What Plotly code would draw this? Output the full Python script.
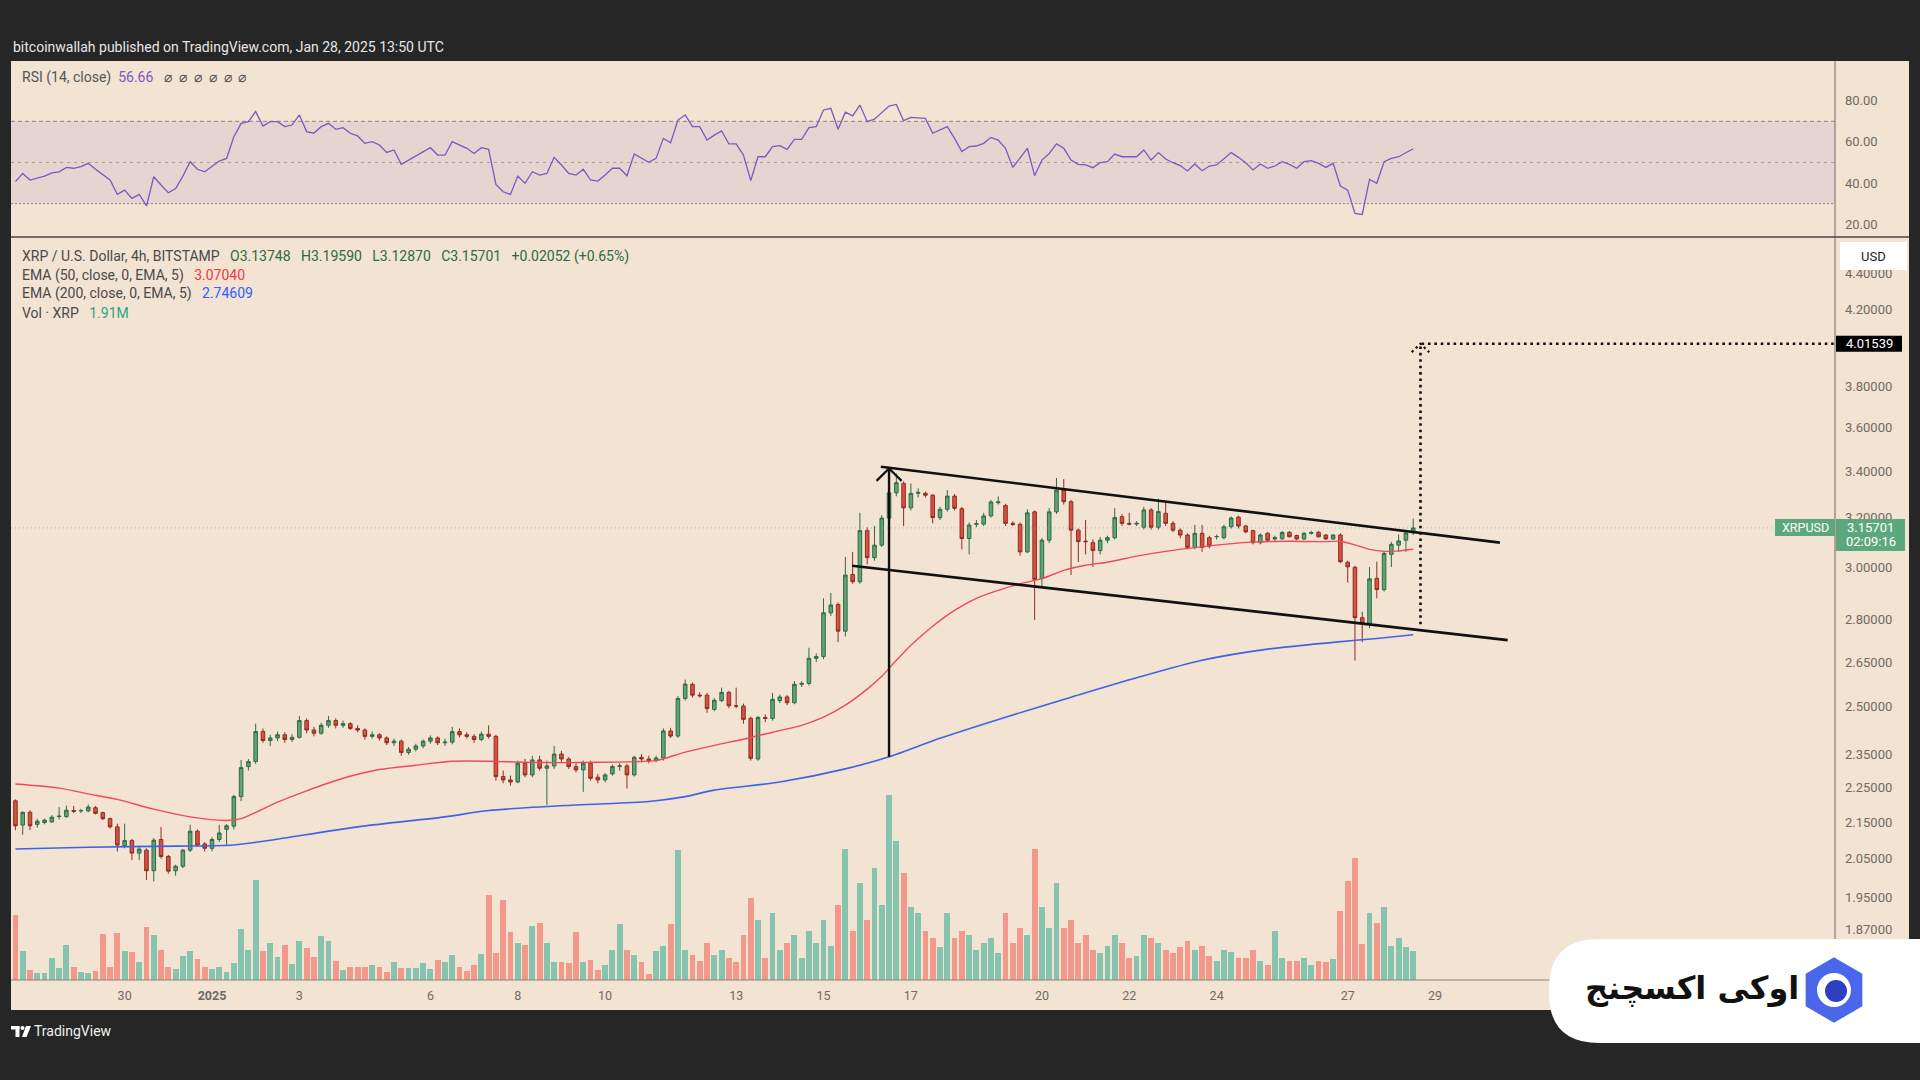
import math
import pandas as pd
import plotly.graph_objects as go

# ---------------- data ----------------
START = "2024-12-27 12:00"   # first 4h candle

opens = [
    2.211, 2.142, 2.178, 2.144, 2.149, 2.151, 2.166, 2.166, 2.183, 2.182,
    2.182, 2.191, 2.177, 2.160, 2.137, 2.085, 2.099, 2.065, 2.073, 2.018,
    2.102, 2.056, 2.018, 2.030, 2.073, 2.125, 2.090, 2.078, 2.102, 2.130,
    2.139, 2.223, 2.312, 2.327, 2.420, 2.392, 2.400, 2.410, 2.395, 2.402,
    2.455, 2.425, 2.415, 2.440, 2.455, 2.440, 2.445, 2.430, 2.425, 2.405,
    2.410, 2.400, 2.385, 2.390, 2.355, 2.365, 2.375, 2.390, 2.400, 2.385,
    2.387, 2.420, 2.410, 2.405, 2.395, 2.412, 2.405, 2.282, 2.272, 2.266,
    2.322, 2.287, 2.332, 2.307, 2.314, 2.350, 2.335, 2.312, 2.302, 2.322,
    2.280, 2.272, 2.290, 2.312, 2.314, 2.287, 2.340, 2.335, 2.330, 2.338,
    2.422, 2.406, 2.527, 2.574, 2.538, 2.538, 2.491, 2.520, 2.547, 2.503,
    2.502, 2.462, 2.335, 2.465, 2.462, 2.520, 2.532, 2.513, 2.574, 2.577,
    2.663, 2.669, 2.826, 2.857, 2.759, 2.971, 2.943, 3.146, 3.037, 3.087,
    3.198, 3.305, 3.346, 3.241, 3.303, 3.303, 3.295, 3.200, 3.235, 3.291,
    3.237, 3.114, 3.172, 3.173, 3.207, 3.263, 3.251, 3.176, 3.172, 3.060,
    3.224, 2.956, 3.107, 3.224, 3.317, 3.267, 3.148, 3.103, 3.097, 3.065,
    3.107, 3.117, 3.204, 3.176, 3.173, 3.160, 3.232, 3.160, 3.218, 3.176,
    3.148, 3.128, 3.078, 3.135, 3.117, 3.121, 3.117, 3.162, 3.202, 3.165,
    3.146, 3.097, 3.135, 3.112, 3.113, 3.139, 3.126, 3.112, 3.135, 3.139,
    3.128, 3.112, 3.128, 3.019, 2.999, 2.808, 2.787, 2.956, 2.913, 3.050,
    3.087, 3.107, 3.13748,
]
highs = [
    2.215, 2.180, 2.184, 2.160, 2.160, 2.170, 2.193, 2.197, 2.196, 2.188,
    2.200, 2.196, 2.180, 2.163, 2.146, 2.146, 2.104, 2.085, 2.078, 2.106,
    2.137, 2.060, 2.034, 2.076, 2.143, 2.130, 2.095, 2.108, 2.143, 2.145,
    2.228, 2.332, 2.335, 2.445, 2.430, 2.410, 2.420, 2.418, 2.412, 2.470,
    2.462, 2.435, 2.448, 2.470, 2.462, 2.455, 2.450, 2.440, 2.430, 2.420,
    2.415, 2.405, 2.398, 2.395, 2.372, 2.382, 2.395, 2.408, 2.405, 2.398,
    2.435, 2.430, 2.418, 2.412, 2.420, 2.440, 2.410, 2.300, 2.285, 2.330,
    2.335, 2.345, 2.345, 2.330, 2.375, 2.360, 2.340, 2.322, 2.330, 2.330,
    2.290, 2.292, 2.318, 2.322, 2.320, 2.345, 2.350, 2.345, 2.345, 2.430,
    2.432, 2.535, 2.590, 2.580, 2.547, 2.545, 2.528, 2.563, 2.552, 2.563,
    2.510, 2.468, 2.470, 2.475, 2.545, 2.540, 2.538, 2.585, 2.585, 2.700,
    2.680, 2.880, 2.900, 2.865, 3.040, 3.060, 3.220, 3.160, 3.165, 3.210,
    3.390, 3.390, 3.355, 3.346, 3.325, 3.310, 3.300, 3.245, 3.317, 3.300,
    3.245, 3.180, 3.190, 3.220, 3.275, 3.290, 3.258, 3.185, 3.180, 3.235,
    3.230, 3.115, 3.240, 3.370, 3.365, 3.275, 3.155, 3.190, 3.110, 3.120,
    3.125, 3.240, 3.215, 3.220, 3.185, 3.245, 3.240, 3.280, 3.265, 3.185,
    3.155, 3.135, 3.170, 3.170, 3.125, 3.130, 3.170, 3.205, 3.208, 3.170,
    3.150, 3.135, 3.140, 3.125, 3.145, 3.145, 3.130, 3.140, 3.145, 3.145,
    3.132, 3.132, 3.135, 3.025, 3.005, 2.830, 3.000, 3.021, 3.060, 3.100,
    3.130, 3.145, 3.19590,
]
lows = [
    2.128, 2.115, 2.128, 2.135, 2.144, 2.148, 2.158, 2.162, 2.176, 2.176,
    2.178, 2.172, 2.156, 2.132, 2.069, 2.078, 2.046, 2.046, 1.994, 1.990,
    2.050, 2.010, 2.005, 2.025, 2.068, 2.082, 2.070, 2.070, 2.095, 2.085,
    2.130, 2.210, 2.300, 2.320, 2.385, 2.375, 2.390, 2.385, 2.388, 2.398,
    2.415, 2.405, 2.410, 2.432, 2.430, 2.432, 2.425, 2.418, 2.395, 2.398,
    2.392, 2.378, 2.375, 2.345, 2.348, 2.358, 2.368, 2.382, 2.378, 2.375,
    2.380, 2.402, 2.398, 2.385, 2.390, 2.398, 2.270, 2.262, 2.255, 2.262,
    2.280, 2.280, 2.300, 2.199, 2.305, 2.325, 2.305, 2.295, 2.237, 2.270,
    2.262, 2.265, 2.285, 2.300, 2.247, 2.282, 2.325, 2.322, 2.325, 2.330,
    2.400, 2.400, 2.520, 2.530, 2.530, 2.480, 2.485, 2.515, 2.495, 2.495,
    2.445, 2.330, 2.330, 2.450, 2.455, 2.512, 2.505, 2.508, 2.565, 2.570,
    2.650, 2.660, 2.815, 2.720, 2.740, 2.935, 2.935, 3.010, 3.025, 3.080,
    3.180, 3.290, 3.165, 3.230, 3.285, 3.285, 3.176, 3.190, 3.225, 3.230,
    3.070, 3.050, 3.160, 3.165, 3.200, 3.255, 3.165, 3.165, 3.045, 3.055,
    2.800, 2.925, 3.095, 3.215, 3.255, 2.969, 3.020, 3.050, 3.000, 3.050,
    3.095, 3.110, 3.165, 3.168, 3.165, 3.150, 3.150, 3.150, 3.165, 3.140,
    3.115, 3.070, 3.070, 3.060, 3.075, 3.110, 3.110, 3.155, 3.155, 3.135,
    3.090, 3.090, 3.105, 3.105, 3.108, 3.118, 3.108, 3.108, 3.130, 3.118,
    3.108, 3.108, 3.015, 2.940, 2.655, 2.719, 2.770, 2.880, 2.905, 3.000,
    3.060, 3.060, 3.12870,
]
closes = [
    2.140, 2.178, 2.140, 2.153, 2.156, 2.164, 2.167, 2.184, 2.181, 2.183,
    2.193, 2.175, 2.160, 2.137, 2.087, 2.099, 2.065, 2.076, 2.018, 2.100,
    2.056, 2.017, 2.030, 2.073, 2.125, 2.087, 2.078, 2.102, 2.120, 2.140,
    2.223, 2.309, 2.327, 2.420, 2.392, 2.400, 2.410, 2.395, 2.402, 2.455,
    2.425, 2.415, 2.440, 2.455, 2.440, 2.445, 2.430, 2.425, 2.405, 2.410,
    2.400, 2.385, 2.390, 2.355, 2.365, 2.375, 2.390, 2.400, 2.385, 2.387,
    2.420, 2.410, 2.405, 2.395, 2.412, 2.405, 2.282, 2.272, 2.266, 2.322,
    2.287, 2.332, 2.307, 2.314, 2.350, 2.335, 2.312, 2.302, 2.322, 2.277,
    2.272, 2.287, 2.312, 2.314, 2.287, 2.340, 2.335, 2.330, 2.338, 2.422,
    2.406, 2.527, 2.575, 2.538, 2.536, 2.494, 2.521, 2.547, 2.503, 2.502,
    2.459, 2.337, 2.465, 2.462, 2.524, 2.532, 2.513, 2.574, 2.577, 2.663,
    2.669, 2.826, 2.855, 2.759, 2.969, 2.943, 3.146, 3.037, 3.087, 3.198,
    3.305, 3.349, 3.241, 3.303, 3.307, 3.295, 3.200, 3.235, 3.291, 3.239,
    3.114, 3.169, 3.175, 3.207, 3.266, 3.266, 3.176, 3.172, 3.060, 3.220,
    2.952, 3.107, 3.224, 3.317, 3.267, 3.148, 3.101, 3.101, 3.065, 3.107,
    3.117, 3.200, 3.176, 3.173, 3.176, 3.232, 3.160, 3.225, 3.176, 3.148,
    3.128, 3.078, 3.135, 3.078, 3.083, 3.122, 3.162, 3.198, 3.165, 3.141,
    3.097, 3.128, 3.107, 3.118, 3.138, 3.121, 3.112, 3.135, 3.138, 3.121,
    3.112, 3.128, 3.021, 3.001, 2.808, 2.787, 2.954, 2.913, 3.054, 3.090,
    3.104, 3.136, 3.15701,
]
volumes_m = [
    4.35, 1.97, 0.67, 0.49, 0.49, 1.45, 0.78, 2.32, 0.85, 0.54,
    0.45, 0.63, 3.08, 0.89, 3.15, 1.94, 1.88, 1.23, 3.53, 3.01,
    2.01, 0.89, 0.71, 1.61, 1.92, 1.41, 0.85, 0.71, 0.89, 0.54,
    1.16, 3.39, 2.01, 6.68, 1.97, 2.48, 1.52, 2.32, 1.05, 2.64,
    2.14, 1.54, 2.95, 2.61, 1.27, 0.67, 0.89, 0.89, 0.89, 1.00,
    0.89, 0.56, 1.23, 0.78, 0.78, 0.78, 1.12, 0.74, 1.34, 1.18,
    1.70, 0.89, 0.58, 1.03, 1.74, 5.69, 1.79, 5.38, 3.19, 2.46,
    2.32, 3.62, 3.80, 2.50, 1.23, 1.23, 1.12, 3.19, 1.23, 1.34,
    0.67, 0.98, 1.99, 3.73, 2.01, 1.67, 1.23, 0.42, 1.97, 2.28,
    3.77, 8.71, 1.99, 1.70, 1.30, 2.50, 1.70, 2.00, 1.50, 1.20,
    3.00, 5.50, 4.00, 1.50, 4.50, 2.00, 2.50, 3.00, 1.50, 3.30,
    2.50, 4.00, 2.30, 5.00, 8.80, 3.30, 6.50, 4.00, 7.50, 5.00,
    12.4, 9.30, 7.20, 4.90, 4.50, 3.30, 2.80, 2.20, 4.50, 2.80,
    3.30, 3.00, 2.00, 2.50, 2.80, 1.80, 4.50, 2.50, 3.50, 3.00,
    8.80, 4.90, 3.50, 6.50, 3.50, 4.00, 2.50, 3.00, 2.00, 1.80,
    2.30, 3.00, 2.50, 1.50, 1.60, 3.00, 2.80, 2.50, 2.00, 1.80,
    2.20, 2.60, 2.00, 2.30, 1.60, 1.30, 2.00, 1.90, 1.50, 1.50,
    2.00, 1.30, 1.00, 3.30, 1.50, 1.30, 1.30, 1.50, 1.00, 1.30,
    1.20, 1.40, 4.60, 6.60, 8.20, 2.40, 4.50, 3.80, 4.90, 2.30,
    2.80, 2.20, 1.91,
]
rsi_vals = [
    40.7, 44.7, 41.5, 42.6, 43.4, 45.0, 45.5, 47.6, 47.2, 48.0,
    49.6, 46.7, 44.3, 41.5, 34.5, 36.6, 32.6, 34.5, 28.9, 43.1,
    39.1, 35.3, 37.4, 43.4, 50.4, 46.7, 45.5, 48.3, 50.7, 52.0,
    62.5, 69.0, 69.8, 74.7, 67.7, 69.8, 69.8, 67.4, 68.2, 73.1,
    65.0, 64.2, 67.4, 69.0, 66.1, 66.9, 64.2, 62.9, 59.3, 60.1,
    58.5, 54.9, 56.1, 49.1, 51.2, 53.1, 55.3, 57.2, 53.6, 53.6,
    60.1, 58.5, 56.9, 54.4, 57.2, 56.4, 39.4, 35.8, 34.5, 43.4,
    39.9, 45.5, 43.9, 44.7, 52.5, 48.8, 44.7, 43.9, 46.7, 41.5,
    41.0, 43.9, 47.2, 47.2, 43.6, 54.1, 52.0, 50.1, 52.0, 61.7,
    59.6, 70.6, 73.1, 67.4, 67.4, 60.9, 63.3, 65.3, 59.0, 59.0,
    53.6, 41.2, 52.8, 52.8, 57.7, 58.2, 56.4, 61.2, 61.2, 66.9,
    67.4, 75.5, 76.3, 66.1, 74.4, 72.6, 77.9, 69.8, 71.0, 74.4,
    77.4, 78.2, 70.3, 71.9, 71.8, 71.4, 64.2, 65.8, 67.4, 61.7,
    55.3, 57.7, 58.0, 59.3, 62.2, 60.9, 56.9, 47.6, 52.0, 56.9,
    43.6, 51.2, 54.4, 59.0, 56.9, 51.2, 49.1, 48.8, 47.5, 49.9,
    50.4, 54.1, 52.8, 52.8, 52.8, 56.1, 51.2, 54.8, 51.7, 49.9,
    48.5, 45.9, 49.3, 46.0, 48.3, 48.8, 52.0, 54.8, 52.5, 49.9,
    46.4, 49.3, 47.2, 48.3, 50.4, 49.1, 47.2, 50.4, 50.9, 49.6,
    47.6, 49.6, 38.6, 36.6, 25.3, 24.8, 41.8, 39.9, 50.4, 52.0,
    52.8, 54.8, 56.66,
]
ema50_idx = [0, 6, 10, 14, 19, 24, 29, 31, 33, 36, 40, 45, 50, 55, 60, 65, 70, 75, 80, 85,
             88, 92, 96, 100, 104, 108, 111, 114, 117, 119, 121, 123, 126, 129, 132, 135,
             138, 141, 144, 147, 150, 154, 158, 162, 166, 170, 175, 180, 182, 184, 186, 188, 190, 192]
ema50_vals = [2.260, 2.248, 2.231, 2.215, 2.187, 2.165, 2.155, 2.160, 2.178, 2.207, 2.240, 2.277,
              2.303, 2.316, 2.328, 2.328, 2.325, 2.324, 2.325, 2.327, 2.330, 2.356, 2.377, 2.396,
              2.418, 2.440, 2.466, 2.505, 2.558, 2.601, 2.656, 2.709, 2.777, 2.835, 2.880, 2.910,
              2.935, 2.955, 2.987, 3.007, 3.019, 3.043, 3.062, 3.077, 3.090, 3.099, 3.103, 3.101,
              3.103, 3.088, 3.070, 3.062, 3.064, 3.07040]
ema200_idx = [0, 10, 22, 30, 35, 47, 59, 65, 77, 87, 92, 96, 105, 114, 120, 127, 136, 145,
              154, 163, 172, 181, 187, 192]
ema200_vals = [2.076, 2.081, 2.084, 2.087, 2.100, 2.137, 2.165, 2.183, 2.199, 2.209, 2.223, 2.242,
               2.266, 2.305, 2.342, 2.399, 2.466, 2.531, 2.596, 2.656, 2.695, 2.719, 2.733, 2.74609]

price_ticks = [1.87, 1.95, 2.05, 2.15, 2.25, 2.35, 2.50, 2.65, 2.80, 3.00, 3.20, 3.40, 3.60, 3.80, 4.20, 4.40]
rsi_ticks = [20, 40, 60, 80]
date_ticks = ["2024-12-30", "2025-01-01", "2025-01-03", "2025-01-06", "2025-01-08", "2025-01-10",
              "2025-01-13", "2025-01-15", "2025-01-17", "2025-01-20", "2025-01-22", "2025-01-24",
              "2025-01-27", "2025-01-29"]
date_tick_text = ["30", "<b>2025</b>", "3", "6", "8", "10", "13", "15", "17", "20", "22", "24", "27", "29"]

# drawings (time, price)
upper_line_t = ["2025-01-16 07:30", "2025-01-30 11:40"]
upper_line_p = [3.420, 3.097]
lower_line_t = ["2025-01-15 15:40", "2025-01-30 15:55"]
lower_line_p = [3.005, 2.727]
flag_t = "2025-01-16 12:00"
flag_p = [2.342, 3.412]
target_t = "2025-01-28 16:00"
target_from = 2.784
target_price = 4.01539
last_price = 3.15701
ema50_last = "3.07040"
ema200_last = "2.74609"
rsi_last = "56.66"
vol_last = "1.91M"
countdown = "02:09:16"

# ---------------- geometry helpers ----------------
W, H = 1920, 1080
def px(x): return x / W
def py(y): return 1 - y / H

PLOT_L, PLOT_R, PANEL_R = 11, 1835, 1909
MAIN_T, MAIN_B = 238, 980
RSI_T, RSI_B = 61, 236
JAN1 = pd.Timestamp("2025-01-01")
X_JAN1, PX_DAY = 212.0, 43.68
def t_at(xpix):
    return JAN1 + pd.Timedelta(days=(xpix - X_JAN1) / PX_DAY)

LP = (math.log10(4.2) - math.log10(2.05)) / (858.7 - 309.3)
YTOP = math.log10(4.2) + (309.3 - MAIN_T) * LP
YBOT = math.log10(2.05) - (MAIN_B - 858.7) * LP
def price_pix(p):
    return MAIN_B - (math.log10(p) - YBOT) / LP

RP = 60 / (224.3 - 100.7)
RTOP = 80 + (100.7 - RSI_T) * RP
RBOT = 20 - (RSI_B - 224.3) * RP

times = pd.date_range(START, periods=len(closes), freq="4h")
x0_t, x1_t = t_at(PLOT_L), t_at(PLOT_R)

BEIGE = "#F2E3D3"
DARK = "#262626"
AXIS_TXT = "#716a64"
FONT = "Roboto, 'Liberation Sans', Arial, sans-serif"

fig = go.Figure()

# volume (base axis, drawn below price)
vol_colors = ["#86C4B0" if c >= o else "#F2998C" for o, c in zip(opens, closes)]
fig.add_trace(go.Bar(x=times, y=volumes_m, marker=dict(color=vol_colors, line=dict(width=0)),
                     width=4 * 3600 * 1000 * 0.8, xaxis="x", yaxis="y", hoverinfo="skip"))

# EMA lines
fig.add_trace(go.Scatter(x=[times[i] for i in ema200_idx], y=ema200_vals, mode="lines",
                         line=dict(color="#3F63E6", width=1.6, shape="spline", smoothing=0.8),
                         xaxis="x", yaxis="y2", hoverinfo="skip"))
fig.add_trace(go.Scatter(x=[times[i] for i in ema50_idx], y=ema50_vals, mode="lines",
                         line=dict(color="#EE4A5C", width=1.4, shape="spline", smoothing=0.8),
                         xaxis="x", yaxis="y2", hoverinfo="skip"))

# candles
fig.add_trace(go.Candlestick(
    x=times, open=opens, high=highs, low=lows, close=closes, xaxis="x", yaxis="y2",
    increasing=dict(fillcolor="#5FA475", line=dict(color="#2F6B46", width=1)),
    decreasing=dict(fillcolor="#D9503F", line=dict(color="#8F2D22", width=1)),
    whiskerwidth=0, hoverinfo="skip"))

# current price dotted line
fig.add_trace(go.Scatter(x=[x0_t, x1_t], y=[last_price, last_price], mode="lines",
                         line=dict(color="rgba(110,150,120,0.55)", width=1, dash="1px,3px"),
                         xaxis="x", yaxis="y2", hoverinfo="skip"))

# channel lines
for tt_, pp_ in ((upper_line_t, upper_line_p), (lower_line_t, lower_line_p)):
    fig.add_trace(go.Scatter(x=pd.to_datetime(tt_), y=pp_, mode="lines",
                             line=dict(color="#111111", width=2.6), xaxis="x", yaxis="y2",
                             hoverinfo="skip"))

# flag pole with arrow head
ft = pd.Timestamp(flag_t)
fig.add_trace(go.Scatter(x=[ft, ft], y=flag_p, mode="lines", line=dict(color="#111111", width=2.4),
                         xaxis="x", yaxis="y2", hoverinfo="skip"))
head_dt = pd.Timedelta(hours=6.9)
head_k = math.exp(-12.4 / 766)
fig.add_trace(go.Scatter(x=[ft - head_dt, ft, ft + head_dt],
                         y=[flag_p[1] * head_k, flag_p[1], flag_p[1] * head_k], mode="lines",
                         line=dict(color="#111111", width=2.2), xaxis="x", yaxis="y2", hoverinfo="skip"))

# projected target (dotted)
tt = pd.Timestamp(target_t)
dots = dict(color="#111111", width=2.6, dash="2.6px,3.8px")
fig.add_trace(go.Scatter(x=[tt, tt, x1_t], y=[target_from, target_price, target_price], mode="lines",
                         line=dots, xaxis="x", yaxis="y2", hoverinfo="skip"))
tdt = pd.Timedelta(hours=4.8)
tk = math.exp(-8.5 / 766)
fig.add_trace(go.Scatter(x=[tt - tdt, tt, tt + tdt], y=[target_price * tk, target_price, target_price * tk],
                         mode="lines", line=dict(color="#111111", width=2.2, dash="2.4px,3.2px"),
                         xaxis="x", yaxis="y2", hoverinfo="skip"))

# RSI
fig.add_trace(go.Scatter(x=times, y=rsi_vals, mode="lines", line=dict(color="#7E57C2", width=1.3),
                         xaxis="x2", yaxis="y3", hoverinfo="skip"))

# ---------------- shapes ----------------
shapes = []
shapes.append(dict(type="rect", xref="paper", yref="paper", x0=px(PLOT_L), x1=px(PANEL_R),
                   y0=py(1010), y1=py(RSI_T), fillcolor=BEIGE, line=dict(width=0), layer="below"))
shapes.append(dict(type="rect", xref="paper", yref="y3", x0=px(PLOT_L), x1=px(PLOT_R), y0=30, y1=70,
                   fillcolor="rgba(126,87,194,0.10)", line=dict(width=0), layer="below"))
for lvl, dash, col in ((70, "4px,3px", "#8d8580"), (50, "3px,4px", "#aaa19a"), (30, "2px,2px", "#8d8580")):
    shapes.append(dict(type="line", xref="paper", yref="y3", x0=px(PLOT_L), x1=px(PLOT_R), y0=lvl, y1=lvl,
                       line=dict(color=col, width=1, dash=dash), layer="below"))
# separators
shapes.append(dict(type="line", xref="paper", yref="paper", x0=px(PLOT_R), x1=px(PLOT_R),
                   y0=py(1010), y1=py(RSI_T), line=dict(color="#6e6862", width=1)))
shapes.append(dict(type="line", xref="paper", yref="paper", x0=px(PLOT_L), x1=px(PANEL_R),
                   y0=py(237), y1=py(237), line=dict(color="#4a4542", width=1.5)))
shapes.append(dict(type="line", xref="paper", yref="paper", x0=px(PLOT_L), x1=px(PANEL_R),
                   y0=py(MAIN_B), y1=py(MAIN_B), line=dict(color="#8a8078", width=1)))

def box(x0, y0, x1, y1, color):
    return dict(type="rect", xref="paper", yref="paper", x0=px(x0), x1=px(x1), y0=py(y1), y1=py(y0),
                fillcolor=color, line=dict(width=0), layer="above")

# axis label boxes
shapes.append(box(1840, 242, 1907, 270, "#FFFFFF"))
ty = price_pix(target_price)
shapes.append(box(1836, ty - 8, 1902, ty + 8, "#000000"))
ly = price_pix(last_price)
shapes.append(box(1836, ly - 9, 1905, ly + 23, "#5CA87C"))
shapes.append(box(1775, ly - 9, 1835, ly + 8, "#5CA87C"))

# watermark card
def pth(cmds):
    out = []
    for c in cmds:
        if isinstance(c, str):
            out.append(c)
        else:
            out.append(f"{px(c[0]):.6f},{py(c[1]):.6f}")
    return " ".join(out)

shapes.append(dict(type="path", xref="paper", yref="paper", layer="above",
                   path=pth(["M", (1920, 939), "L", (1599, 939), "Q", (1549, 939), (1549, 989),
                             "L", (1549, 993), "Q", (1549, 1043), (1599, 1043), "L", (1920, 1043), "Z"]),
                   fillcolor="#FFFFFF", line=dict(width=0)))
cx, cy, R = 1834, 990, 31
c30 = math.cos(math.radians(30))
hexpts = [(cx, cy - R), (cx + R * c30, cy - R / 2), (cx + R * c30, cy + R / 2), (cx, cy + R),
          (cx - R * c30, cy + R / 2), (cx - R * c30, cy - R / 2)]
cmds = ["M", hexpts[0]]
for p in hexpts[1:]:
    cmds += ["L", p]
cmds.append("Z")
shapes.append(dict(type="path", xref="paper", yref="paper", layer="above", path=pth(cmds),
                   fillcolor="#4A67EC", line=dict(color="#4A67EC", width=3)))
shapes.append(dict(type="circle", xref="paper", yref="paper", layer="above",
                   x0=px(cx - 17), x1=px(cx + 17), y0=py(cy + 17), y1=py(cy - 17),
                   fillcolor="#FFFFFF", line=dict(width=0)))
shapes.append(dict(type="circle", xref="paper", yref="paper", layer="above",
                   x0=px(cx - 9), x1=px(cx + 13), y0=py(cy + 12), y1=py(cy - 10),
                   fillcolor="#2E3FBF", line=dict(width=0)))

# TradingView logo mark
shapes.append(box(11, 1026, 19.5, 1029.5, "#FFFFFF"))
shapes.append(box(15.5, 1026, 19.5, 1037, "#FFFFFF"))
shapes.append(dict(type="circle", xref="paper", yref="paper", layer="above",
                   x0=px(20.5), x1=px(24.5), y0=py(1030), y1=py(1026), fillcolor="#FFFFFF", line=dict(width=0)))
shapes.append(dict(type="path", xref="paper", yref="paper", layer="above",
                   path=pth(["M", (26, 1026), "L", (31, 1026), "L", (26.5, 1037), "L", (22, 1037), "Z"]),
                   fillcolor="#FFFFFF", line=dict(width=0)))

# ---------------- annotations ----------------
ann = []
def text(x, y, s, size=13, color="#4a4a4a", xanchor="left", family=FONT):
    ann.append(dict(x=px(x), y=py(y), xref="paper", yref="paper", text=s, showarrow=False,
                    xanchor=xanchor, yanchor="middle", font=dict(size=size, color=color, family=family)))

nb = "\u00a0"
g2 = nb * 2
g3 = nb * 3
text(11, 47, "bitcoinwallah published on TradingView.com, Jan 28, 2025 13:50 UTC", 14, "#e6e6e6")
text(20, 78, f"RSI (14, close){g2}<span style='color:#7E57C2'>{rsi_last}</span>{g3}"
     + g2.join(["⌀"] * 6), 14, "#555555")
green = "#2C6B40"
text(20, 256, f"XRP / U.S. Dollar, 4h, BITSTAMP{g3}<span style='color:{green}'>O3.13748{g3}H3.19590"
     f"{g3}L3.12870{g3}C{last_price:.5f}{g3}+0.02052 (+0.65%)</span>", 14, "#4a4a4a")
text(20, 275, f"EMA (50, close, 0, EMA, 5){g3}<span style='color:#F23645'>{ema50_last}</span>", 14, "#4a4a4a")
text(20, 294, f"EMA (200, close, 0, EMA, 5){g3}<span style='color:#2962FF'>{ema200_last}</span>", 14, "#4a4a4a")
text(20, 313, f"Vol · XRP{g3}<span style='color:#2FA37F'>{vol_last}</span>", 14, "#4a4a4a")

text(1873.5, 256, "USD", 13, "#1e1e1e", "center")
text(1869, ty, f"{target_price:.5f}", 13, "#FFFFFF", "center")
text(1870.5, ly, f"{last_price:.5f}", 13, "#FFFFFF", "center")
text(1870.5, ly + 14, countdown, 13, "#FFFFFF", "center")
text(1805, ly, "XRPUSD", 12.5, "#FFFFFF", "center")

text(1692, 988, "<b>اوکی اکسچنج</b>", 32, "#111111", "center", "'DejaVu Sans', sans-serif")
text(32, 1031, "TradingView", 14, "#f0f0f0")

# ---------------- layout ----------------
fig.update_layout(
    width=W, height=H, margin=dict(l=0, r=0, t=0, b=0),
    paper_bgcolor=DARK, plot_bgcolor="rgba(0,0,0,0)", showlegend=False,
    font=dict(family=FONT, size=13, color=AXIS_TXT),
    boxgap=0.3, bargap=0, shapes=shapes, annotations=ann, hovermode=False,
    xaxis=dict(domain=[px(PLOT_L), px(PLOT_R)], anchor="y", range=[x0_t, x1_t], type="date",
               rangeslider=dict(visible=False), showgrid=False, zeroline=False, showline=False,
               tickmode="array", tickvals=pd.to_datetime(date_ticks), ticktext=date_tick_text,
               ticks="", tickfont=dict(size=12.5, color=AXIS_TXT), ticklabelstandoff=6),
    yaxis=dict(domain=[py(MAIN_B), py(MAIN_T)], range=[0, 742 * 0.067], visible=False,
               showgrid=False, zeroline=False, fixedrange=True),
    yaxis2=dict(domain=[py(MAIN_B), py(MAIN_T)], overlaying="y", anchor="x", side="right", type="log",
                range=[YBOT, YTOP], showgrid=False, zeroline=False, showline=False, ticks="",
                tickmode="array", tickvals=price_ticks, ticktext=[f"{v:.5f}" for v in price_ticks],
                tickfont=dict(size=13, color=AXIS_TXT), ticklabelstandoff=9),
    xaxis2=dict(domain=[px(PLOT_L), px(PLOT_R)], anchor="y3", matches="x", showticklabels=False,
                showgrid=False, zeroline=False, showline=False, ticks="", type="date",
                rangeslider=dict(visible=False)),
    yaxis3=dict(domain=[py(RSI_B), py(RSI_T)], anchor="x2", side="right", range=[RBOT, RTOP],
                showgrid=False, zeroline=False, showline=False, ticks="", tickmode="array",
                tickvals=rsi_ticks, ticktext=[f"{v:.2f}" for v in rsi_ticks],
                tickfont=dict(size=13, color=AXIS_TXT), ticklabelstandoff=9),
)

fig.write_html("out.html", config={"displayModeBar": False},
               post_script="document.body.style.margin='0';document.body.style.background='#262626';")
